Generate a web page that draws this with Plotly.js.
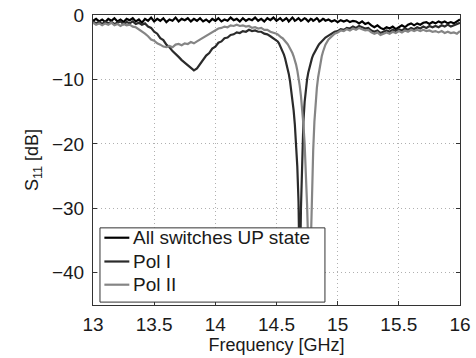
<!DOCTYPE html>
<html>
<head>
<meta charset="utf-8">
<script src="https://cdn.plot.ly/plotly-3.0.1.min.js"></script>
<style>html,body{margin:0;padding:0;background:#fff;}#chart{width:476px;height:358px;}</style>
</head>
<body>
<div id="chart"></div>
<script>
// Frequency grid [GHz]
const freq = [
13.000,13.025,13.050,13.075,13.100,13.125,13.150,13.175,13.200,13.225,
13.250,13.275,13.300,13.325,13.350,13.375,13.400,13.425,13.450,13.475,
13.500,13.525,13.550,13.575,13.600,13.625,13.650,13.675,13.700,13.725,
13.750,13.775,13.800,13.825,13.850,13.875,13.900,13.925,13.950,13.975,
14.000,14.025,14.050,14.075,14.100,14.125,14.150,14.175,14.200,14.225,
14.250,14.275,14.300,14.325,14.350,14.375,14.400,14.425,14.450,14.475,
14.50,14.51,14.52,14.53,14.54,14.55,14.56,14.57,14.58,14.59,
14.60,14.61,14.62,14.63,14.64,14.65,14.66,14.67,14.68,14.69,
14.70,14.71,14.72,14.73,14.74,14.75,14.76,14.77,14.78,14.79,
14.80,14.81,14.82,14.83,14.84,14.85,14.86,14.87,14.88,14.89,
14.90,
14.925,14.950,14.975,15.000,15.025,15.050,15.075,15.100,15.125,15.150,
15.175,15.200,15.225,15.250,15.275,15.300,15.325,15.350,15.375,15.400,
15.425,15.450,15.475,15.500,15.525,15.550,15.575,15.600,15.625,15.650,
15.675,15.700,15.725,15.750,15.775,15.800,15.825,15.850,15.875,15.900,
15.925,15.950,15.975,16.000
];

// S11 [dB] - all switches UP state
const allUp = [
-0.9,-0.6,-1.0,-0.7,-1.1,-0.6,-0.9,-0.5,-1.0,-0.7,
-1.1,-0.6,-0.8,-0.5,-1.0,-0.7,-1.2,-0.6,-0.9,-0.4,
-1.0,-0.6,-0.9,-0.5,-1.1,-0.7,-0.9,-0.4,-1.0,-0.6,
-0.8,-0.5,-1.0,-0.6,-0.9,-0.5,-1.0,-0.7,-1.1,-0.6,
-0.9,-0.5,-1.0,-0.7,-0.9,-0.4,-0.8,-0.6,-1.0,-0.5,
-0.9,-0.6,-0.8,-0.4,-0.9,-0.6,-1.0,-0.5,-0.8,-0.4,
-0.9,-0.8,-0.6,-0.5,-0.7,-0.9,-0.8,-0.6,-0.5,-0.7,
-1.0,-0.8,-0.6,-0.4,-0.6,-0.9,-0.8,-0.6,-0.5,-0.7,
-0.9,-0.8,-0.6,-0.5,-0.6,-0.9,-1.0,-0.8,-0.6,-0.7,
-0.9,-0.8,-0.6,-0.5,-0.7,-1.0,-0.9,-0.7,-0.6,-0.7,
-0.9,
-0.7,-1.0,-0.8,-1.1,-0.8,-1.0,-0.8,-1.1,-0.9,-1.0,
-1.3,-1.0,-1.4,-1.2,-1.6,-1.9,-1.6,-2.0,-2.2,-1.9,
-2.1,-1.8,-2.2,-1.9,-1.6,-1.9,-1.5,-1.3,-1.6,-1.3,
-1.5,-1.2,-1.1,-1.4,-1.1,-1.3,-1.0,-1.2,-1.0,-1.3,
-1.1,-1.3,-1.0,-0.7
];

// S11 [dB] - Pol I
const polI = [
-1.0,-1.3,-1.1,-1.4,-1.0,-1.3,-1.1,-1.4,-1.2,-1.0,
-1.4,-1.1,-1.3,-1.0,-1.4,-1.2,-1.5,-1.3,-1.8,-2.0,
-2.6,-2.9,-3.6,-3.9,-4.6,-5.0,-5.6,-6.0,-6.5,-7.0,
-7.4,-7.9,-8.2,-8.6,-8.3,-7.6,-7.0,-6.3,-5.9,-5.2,
-4.9,-4.3,-4.1,-3.6,-3.5,-3.1,-3.0,-2.7,-2.8,-2.5,
-2.6,-2.3,-2.5,-2.4,-2.6,-2.6,-2.9,-3.0,-3.3,-3.6,
-3.9,-4.1,-4.4,-4.8,-5.2,-5.6,-6.1,-6.7,-7.4,-8.2,
-9.1,-10.2,-11.5,-13.0,-14.8,-17.0,-19.8,-23.5,-29.0,-42.0,
-30.0,-21.0,-16.5,-13.5,-11.5,-10.0,-8.9,-8.0,-7.3,-6.7,
-6.2,-5.8,-5.4,-5.1,-4.8,-4.5,-4.3,-4.1,-3.9,-3.7,
-3.5,
-3.2,-2.9,-2.6,-2.5,-2.2,-2.3,-2.0,-2.1,-1.8,-2.0,
-1.7,-1.9,-2.1,-2.0,-2.4,-2.6,-2.4,-2.8,-2.6,-2.4,
-2.6,-2.3,-2.5,-2.2,-2.4,-2.1,-2.3,-2.0,-2.2,-1.9,
-2.1,-1.8,-2.0,-1.7,-1.9,-1.7,-1.9,-1.6,-1.8,-1.5,
-1.8,-1.6,-1.4,-1.2
];

// S11 [dB] - Pol II
const polII = [
-1.2,-1.5,-1.3,-1.6,-1.3,-1.5,-1.2,-1.6,-1.4,-1.7,
-1.4,-1.6,-1.5,-1.8,-1.9,-2.2,-2.5,-2.9,-3.3,-3.8,
-4.0,-4.4,-4.6,-4.9,-5.0,-4.8,-5.0,-4.6,-4.5,-4.7,
-4.4,-4.5,-4.2,-4.4,-4.1,-3.8,-3.6,-3.2,-2.9,-2.6,
-2.4,-2.1,-2.0,-1.8,-1.9,-1.6,-1.7,-1.5,-1.7,-1.6,
-1.8,-1.7,-2.0,-1.9,-2.1,-2.0,-2.3,-2.3,-2.6,-2.7,
-2.9,-3.0,-3.2,-3.3,-3.5,-3.6,-3.8,-4.0,-4.2,-4.5,
-4.8,-5.1,-5.5,-5.9,-6.4,-7.0,-7.7,-8.6,-9.7,-11.0,
-12.6,-14.6,-17.0,-20.0,-24.0,-29.5,-36.0,-42.0,-36.0,-27.0,
-21.0,-16.5,-13.5,-11.3,-9.7,-8.4,-7.3,-6.4,-5.7,-5.1,
-4.6,
-3.8,-3.3,-2.9,-2.7,-2.4,-2.5,-2.2,-2.4,-2.1,-2.3,
-2.0,-2.2,-2.4,-2.3,-2.7,-2.9,-2.7,-3.1,-2.9,-2.7,
-2.9,-2.6,-2.8,-2.5,-2.7,-2.4,-2.6,-2.3,-2.5,-2.3,
-2.5,-2.3,-2.5,-2.4,-2.6,-2.5,-2.7,-2.5,-2.8,-2.6,
-2.8,-2.7,-2.9,-2.5
];

const seriesNames = ['All switches UP state', 'Pol I', 'Pol II'];
const seriesColors = ['#000000', '#2b2b2b', '#858585'];
const xTicks = [13, 13.5, 14, 14.5, 15, 15.5, 16];
const yTicks = [0, -10, -20, -30, -40];

const FONT = 'Liberation Sans, Arial, Helvetica, sans-serif';
const TXT = '#1a1a1a';

const traces = [
  {x: freq, y: allUp, name: seriesNames[0], mode: 'lines', line: {color: seriesColors[0], width: 2.2}},
  {x: freq, y: polI, name: seriesNames[1], mode: 'lines', line: {color: seriesColors[1], width: 2.2}},
  {x: freq, y: polII, name: seriesNames[2], mode: 'lines', line: {color: seriesColors[2], width: 2.2}}
];

const axisCommon = {
  showline: true, mirror: 'ticks', linecolor: '#333', linewidth: 1,
  ticks: 'inside', ticklen: 4, tickcolor: '#333',
  showgrid: true, gridcolor: '#b0b0b0', griddash: '1px,3px', gridwidth: 1,
  zeroline: false,
  tickfont: {family: FONT, size: 19, color: TXT}
};

// Hand-built legend box (MATLAB style), drawn over the curves
const legBox = {x0: 0.019, x1: 0.632, y0: 0.010, y1: 0.266};
const legRows = [0.232, 0.150, 0.070];
const shapes = [
  {type: 'rect', xref: 'paper', yref: 'paper', layer: 'above',
   x0: legBox.x0, x1: legBox.x1, y0: legBox.y0, y1: legBox.y1,
   fillcolor: '#ffffff', line: {color: '#333', width: 1}}
];
const annotations = [];
seriesNames.forEach((n, i) => {
  shapes.push({type: 'line', xref: 'paper', yref: 'paper', layer: 'above',
    x0: 0.031, x1: 0.099, y0: legRows[i], y1: legRows[i],
    line: {color: seriesColors[i], width: 2.2}});
  annotations.push({xref: 'paper', yref: 'paper', x: 0.104, y: legRows[i],
    xanchor: 'left', yanchor: 'middle', showarrow: false, text: n,
    font: {family: FONT, size: 19, color: TXT}});
});

const layout = {
  width: 476, height: 358,
  margin: {l: 93, r: 16, t: 15, b: 53},
  paper_bgcolor: '#fff', plot_bgcolor: '#fff',
  font: {family: FONT, color: TXT},
  showlegend: false,
  shapes: shapes,
  annotations: annotations,
  xaxis: Object.assign({}, axisCommon, {
    range: [13, 16], tickvals: xTicks, ticktext: xTicks.map(String),
    ticklabelstandoff: 2,
    title: {text: 'Frequency [GHz]', font: {family: FONT, size: 18, color: TXT}, standoff: 2}
  }),
  yaxis: Object.assign({}, axisCommon, {
    range: [-45, 0], tickvals: yTicks, ticktext: yTicks.map(v => v < 0 ? '\u2212' + Math.abs(v) : String(v)),
    ticklabelstandoff: 4,
    title: {text: 'S<sub>11</sub> [dB]', font: {family: FONT, size: 18, color: TXT}, standoff: 8}
  })
};

Plotly.newPlot('chart', traces, layout, {displayModeBar: false, staticPlot: true});
</script>
</body>
</html>
